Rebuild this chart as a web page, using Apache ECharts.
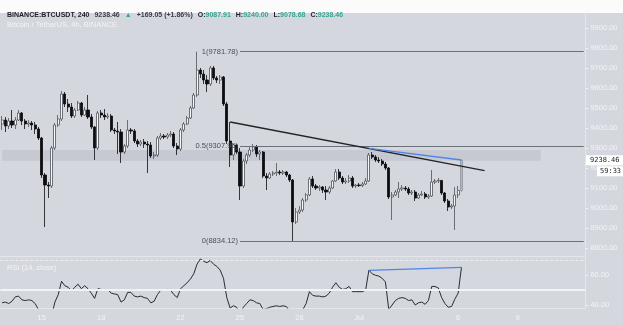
<!DOCTYPE html>
<html><head><meta charset="utf-8">
<script src="https://cdn.jsdelivr.net/npm/echarts@6/dist/echarts.min.js"></script>
<style>html,body{margin:0;padding:0;background:#d4d7de;}#c{width:623px;height:325px;}</style>
</head><body><div id="c"></div>
<script>
// ---- data ----
const startTimeMs = Date.UTC(2020, 5, 13, 0, 0);   // first 4h slot
const slotHours = 4;
const slotCount = 177;                               // visible slots incl. empty future
const tickDates = ['2020-06-15 00:00','2020-06-18 00:00','2020-06-22 00:00','2020-06-25 00:00','2020-06-28 00:00','2020-07-01 00:00','2020-07-06 00:00','2020-07-09 00:00'];
const tickTexts = ['15','18','22','25','28','Jul','6','9'];
const priceTicks = [8800,8900,9000,9100,9200,9300,9400,9500,9600,9700,9800,9900];
const rsiTicks = [40,60];

const opens = [9420,9440,9410,9435,9415,9440,9475,9435,9420,9425,9415,9395,9350,9165,9115,9110,9300,9415,9445,9570,
9520,9505,9460,9490,9525,9465,9490,9455,9405,9300,9475,9465,9455,9460,9390,9385,9380,9280,9310,9390,
9385,9335,9320,9330,9320,9315,9260,9265,9350,9360,9355,9365,9370,9310,9295,9390,9420,9450,9500,9565,
9690,9670,9640,9620,9700,9650,9640,9655,9520,9335,9265,9315,9280,9110,9235,9265,9290,9305,9270,9280,
9160,9150,9170,9175,9180,9175,9180,9165,9140,8930,8980,8990,9040,9065,9145,9110,9100,9105,9090,9080,
9100,9135,9180,9150,9130,9135,9150,9110,9115,9112,9120,9135,9265,9255,9240,9235,9220,9200,9055,9065,
9080,9095,9100,9095,9075,9080,9050,9065,9070,9055,9060,9130,9135,9138,9075,9035,9005,9010,9065,9087.91];
const highs = [9460,9455,9450,9490,9455,9490,9480,9445,9440,9435,9430,9405,9355,9175,9130,9310,9425,9465,9585,9580,
9545,9525,9500,9535,9530,9505,9565,9470,9410,9485,9490,9495,9475,9470,9400,9430,9395,9320,9440,9400,
9395,9345,9340,9345,9335,9330,9280,9360,9375,9370,9375,9385,9380,9325,9400,9430,9460,9510,9575,9781.78,
9700,9690,9665,9710,9710,9660,9665,9660,9530,9430,9320,9320,9300,9245,9275,9305,9320,9315,9290,9285,
9175,9180,9185,9225,9190,9190,9185,9170,9145,9000,9010,9050,9075,9155,9160,9120,9115,9110,9110,9110,
9140,9195,9195,9160,9150,9165,9160,9120,9125,9130,9150,9275,9280,9265,9255,9245,9230,9205,9080,9090,
9130,9115,9110,9105,9090,9090,9075,9085,9080,9070,9190,9145,9150,9140,9080,9045,9020,9105,9110,9240];
const lows = [9390,9380,9395,9400,9395,9435,9415,9395,9405,9390,9370,9340,9150,8905,9050,9100,9290,9405,9435,9505,
9480,9450,9450,9485,9455,9460,9445,9395,9240,9290,9450,9440,9445,9380,9370,9270,9225,9270,9300,9370,
9325,9305,9310,9300,9175,9250,9245,9255,9340,9345,9345,9355,9300,9265,9285,9380,9415,9445,9495,9555,
9650,9620,9580,9610,9640,9625,9620,9510,9320,9205,9240,9270,9040,9100,9220,9255,9280,9255,9240,9150,
9090,9145,9160,9160,9165,9165,9155,9130,8834.12,8920,8970,8980,9030,9060,9100,9090,9085,9075,9040,9070,
9095,9130,9140,9120,9120,9125,9100,9100,9105,9105,9115,9130,9245,9230,9225,9210,9190,9045,8940,9060,
9050,9085,9085,9065,9065,9035,9045,9060,9045,9045,9055,9120,9125,9065,9025,8985,8995,8890,9050,9078.68];
const closes = [9440,9410,9435,9415,9440,9475,9435,9420,9425,9415,9395,9350,9165,9115,9110,9300,9415,9445,9570,9520,
9505,9460,9490,9525,9465,9490,9455,9405,9300,9475,9465,9455,9460,9390,9385,9380,9280,9310,9390,9385,
9335,9320,9330,9320,9315,9260,9265,9350,9360,9355,9365,9370,9310,9295,9390,9420,9450,9500,9565,9690,
9670,9640,9620,9700,9650,9640,9655,9520,9335,9265,9315,9280,9110,9235,9265,9290,9305,9270,9280,9160,
9150,9170,9175,9180,9175,9180,9165,9140,8930,8980,8990,9040,9065,9145,9110,9100,9105,9090,9080,9100,
9135,9180,9150,9130,9135,9150,9110,9115,9112,9120,9135,9265,9255,9240,9235,9220,9200,9055,9065,9080,
9095,9100,9095,9075,9080,9050,9065,9070,9055,9060,9130,9135,9138,9075,9035,9005,9010,9065,9087.91,9238.46];
const rsiValues = [41.5,42,41,42.5,45.5,46,43.5,43,43.5,43,41,37,25,22,22,33,42,47,56,53,
52,49.5,52,54,51,53,51,48,44.5,51,50.5,50,50.5,48,47.5,47,42,43.5,48.5,48.5,
46,45.5,46,45,44.5,41.5,42.5,47,50,50,50.5,50,47,45,51,53,55,57.5,61,67.5,
71,69.5,68.5,70,67.5,66,63.5,58,45,38,39.5,38.5,33,38.5,41,43.5,43,41.5,41,37,
37.5,38.5,39,39.5,39,39.5,39,36,26,31,33,37,41,49,46.5,46,46,45.5,46,48,
52,55,52,50.5,51,52.5,49,49,49,49,50,63.5,61,60,59.5,58,55.5,37,40,43,
44.5,45,44.5,43,43.5,40,41.5,42,40.5,43,52.5,52.5,51.5,45,41,38.5,39,44,48,65.4];

const fibLevels = ['1','0.5','0'];
const fibPrices = [9781.78, 9307.95, 8834.12];
const fibStartSlot = 72;
const zoneTop = 9290, zoneBottom = 9236, zoneEndSlot = 163;
const trendLine = [[69, 9430], [146, 9186.5]];
const priceDivLine = [[111, 9298], [139, 9240]];
const rsiDivLine = [[111, 63.4], [139, 65.3]];
const lastPrice = 9238.46;
const countdown = '59:33';
const headerSymbol = 'BINANCE:BTCUSDT, 240';
const headerChange = ['9238.46', '+169.05 (+1.86%)'];
const headerOHLC = [['O','9087.91'],['H','9240.00'],['L','9078.68'],['C','9238.46']];

// ---- build ----
const pad = n => String(n).padStart(2, '0');
const categories = [];
for (let i = 0; i < slotCount; i++) {
  const d = new Date(startTimeMs + i * slotHours * 3600e3);
  categories.push(`${d.getUTCFullYear()}-${pad(d.getUTCMonth()+1)}-${pad(d.getUTCDate())} ${pad(d.getUTCHours())}:00`);
}
const tickMap = {};
tickDates.forEach((d, i) => tickMap[d] = tickTexts[i]);

const lastIdx = opens.length - 1;
const candleData = opens.map((o, i) => {
  const v = [o, closes[i], lows[i], highs[i]];
  if (i === lastIdx) return { value: v, itemStyle: { color: '#b4b7be', borderColor: '#8f939b', color0: '#b4b7be', borderColor0: '#8f939b' } };
  return v;
});

const lightText = '#f3f4f7';
const FONT = 'Liberation Sans, Arial, sans-serif';

const chart = echarts.init(document.getElementById('c'), null, { renderer: 'canvas' });

const fibMark = fibLevels.map((lv, k) => [
  { coord: [categories[fibStartSlot], fibPrices[k]],
    label: { show: true, position: 'start', distance: 2, formatter: `${lv}(${fibPrices[k].toFixed(2)})`, color: '#4a4e57', fontSize: 7.5, fontFamily: FONT },
    lineStyle: { color: '#6c7079', width: 1, type: 'solid' } },
  { coord: [categories[slotCount - 1], fibPrices[k]] }
]);

const option = {
  animation: false,
  backgroundColor: '#d4d7de',
  textStyle: { fontFamily: FONT },
  grid: [
    { left: 0.4, width: 585, top: 13, height: 243, outerBoundsMode: 'none' },
    { left: 0.4, width: 585, top: 257, height: 51, outerBoundsMode: 'none' }
  ],
  xAxis: [
    { type: 'category', gridIndex: 0, data: categories, boundaryGap: true,
      axisLine: { show: true, lineStyle: { color: '#e4e6eb', width: 1 } }, axisTick: { show: false }, axisLabel: { show: false }, splitLine: { show: false } },
    { type: 'category', gridIndex: 1, data: categories, boundaryGap: true,
      axisLine: { show: true, lineStyle: { color: '#e4e6eb', width: 1 } }, axisTick: { show: false }, splitLine: { show: false },
      axisLabel: { show: true, color: lightText, fontSize: 7.5, margin: 6, fontFamily: FONT,
        interval: (idx, val) => tickMap[val] !== undefined,
        formatter: val => tickMap[val] || '' } }
  ],
  yAxis: [
    { type: 'value', gridIndex: 0, position: 'right', min: 8760, max: 9975, scale: true,
      axisLine: { show: true, lineStyle: { color: '#e4e6eb' } },
      axisTick: { show: true, length: 3, lineStyle: { color: '#eef0f4' }, customValues: priceTicks },
      axisLabel: { show: true, color: lightText, fontSize: 7.5, margin: 5, fontFamily: FONT, customValues: priceTicks, formatter: v => v.toFixed(2) },
      splitLine: { show: false } },
    { type: 'value', gridIndex: 1, position: 'right', min: 38.0, max: 72.34,
      axisLine: { show: true, lineStyle: { color: '#e4e6eb' } },
      axisTick: { show: true, length: 3, lineStyle: { color: '#eef0f4' }, customValues: rsiTicks },
      axisLabel: { show: true, color: lightText, fontSize: 7.5, margin: 5, fontFamily: FONT, customValues: rsiTicks, formatter: v => v.toFixed(2) },
      splitLine: { show: false } }
  ],
  title: {
    left: 2, top: 1.5,
    text: `{b|${headerSymbol}} {n|${headerChange[0]}} {g|▲} {n|${headerChange[1]}} ` +
      headerOHLC.map(p => `{b|${p[0]}:}{g|${p[1]}}`).join(' '),
    textStyle: { rich: {
      b: { fontSize: 7, fontWeight: 'bold', color: '#1c1f26', fontFamily: FONT },
      n: { fontSize: 7, color: '#3a3d45', fontFamily: FONT },
      g: { fontSize: 7, color: '#36a58f', fontFamily: FONT }
    } }
  },
  series: [
    { type: 'candlestick', xAxisIndex: 0, yAxisIndex: 0, data: candleData, barWidth: 2.6,
      itemStyle: { color: '#f6f7f9', color0: '#0d0d0f', borderColor: '#50535a', borderColor0: '#0d0d0f', borderWidth: 0.8 },
      markArea: { silent: true, itemStyle: { color: 'rgba(150,154,166,0.22)' },
        data: [[{ coord: [categories[0], zoneTop] }, { coord: [categories[zoneEndSlot], zoneBottom] }]] },
      markLine: { silent: true, symbol: 'none', animation: false,
        data: fibMark.concat([
          [{ coord: [categories[trendLine[0][0]], trendLine[0][1]], lineStyle: { color: '#222428', width: 1.3, type: 'solid' }, label: { show: false } },
           { coord: [categories[trendLine[1][0]], trendLine[1][1]] }],
          [{ coord: [categories[priceDivLine[0][0]], priceDivLine[0][1]], lineStyle: { color: '#4f86e8', width: 1.3, type: 'solid' }, label: { show: false } },
           { coord: [categories[priceDivLine[1][0]], priceDivLine[1][1]] }]
        ]) }
    },
    { type: 'line', xAxisIndex: 1, yAxisIndex: 1, data: rsiValues, showSymbol: false, symbol: 'none',
      lineStyle: { color: '#2a2c31', width: 1 }, clip: true,
      markLine: { silent: true, symbol: 'none', animation: false, label: { show: false },
        data: [
          { yAxis: 70, lineStyle: { color: '#eceef2', type: [3, 2], width: 1 } },
          { yAxis: 50, lineStyle: { color: '#f2f3f6', type: 'solid', width: 2 } },
          [{ coord: [categories[rsiDivLine[0][0]], rsiDivLine[0][1]], lineStyle: { color: '#4f86e8', width: 1.3, type: 'solid' } },
           { coord: [categories[rsiDivLine[1][0]], rsiDivLine[1][1]] }]
        ] } }
  ]
};
chart.setOption(option);

// annotations positioned through the axes
const yLast = chart.convertToPixel({ yAxisIndex: 0 }, lastPrice);
chart.setOption({
  graphic: [
    { type: 'rect', left: 0, top: 0, shape: { width: 623, height: 13 }, style: { fill: '#fbfbfc' }, z: -1, silent: true },
    { type: 'text', left: 7, top: 21, style: { text: 'Bitcoin / TetherUS, 4h, BINANCE', fill: lightText, fontSize: 7.5, fontFamily: FONT } },
    { type: 'text', left: 7, top: 264, style: { text: 'RSI (14, close)', fill: lightText, fontSize: 7.5, fontFamily: FONT } },
    { type: 'rect', shape: { x: 586, y: yLast - 5, width: 37, height: 10 }, style: { fill: '#ffffff' }, z: 50 },
    { type: 'text', x: 590, y: yLast, style: { text: lastPrice.toFixed(2), fill: '#1c1f26', fontSize: 7, fontFamily: 'DejaVu Sans Mono, monospace', verticalAlign: 'middle' }, z: 51 },
    { type: 'rect', shape: { x: 597, y: yLast + 6, width: 26, height: 10 }, style: { fill: '#ffffff' }, z: 50 },
    { type: 'text', x: 600, y: yLast + 11, style: { text: countdown, fill: '#1c1f26', fontSize: 7, fontFamily: 'DejaVu Sans Mono, monospace', verticalAlign: 'middle' }, z: 51 }
  ]
});
</script>
</body></html>
